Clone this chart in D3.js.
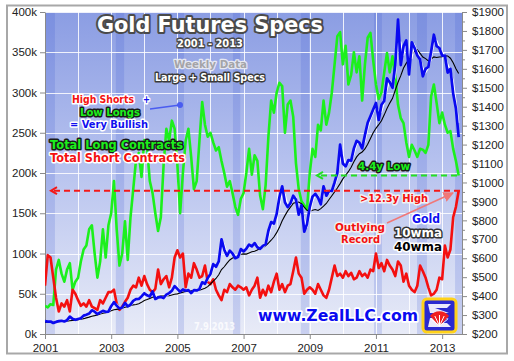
<!DOCTYPE html>
<html><head><meta charset="utf-8">
<script src="https://cdn.jsdelivr.net/npm/d3@7"></script>
<style>html,body{margin:0;padding:0;background:#fff;} svg{display:block;}</style>
</head><body><svg id="c" width="514" height="361"></svg>
<script>
// ---------- DATA (monthly samples, Jan 2001 .. Jul 2013) ----------
const startYear = 2001;
const longs = [
 35,33,37,36,80,92,75,65,80,88,55,65,
 70,90,105,110,130,135,100,70,90,130,95,135,
 150,190,130,85,100,140,92,145,180,216,225,195,
 241,233,190,175,150,128,145,210,255,240,265,255,
 210,150,200,240,255,220,180,190,240,288,260,245,
 250,238,228,232,215,200,183,190,175,158,148,168,
 175,200,230,198,222,215,172,155,185,245,290,275,
 300,312,308,250,285,290,270,212,180,165,160,155,
 200,230,220,260,253,290,260,275,300,335,370,375,
 335,358,310,322,350,325,345,290,335,368,374,340,
 310,292,300,325,349,325,345,320,285,268,262,238,
 220,235,228,220,230,229,225,235,295,310,287,262,
 275,260,250,252,230,215,197];
const shorts = [
 60,98,95,70,45,28,38,34,42,28,55,50,
 42,35,38,34,42,34,32,30,42,38,45,52,
 52,55,38,30,34,40,45,55,60,58,70,60,
 72,62,55,52,56,80,62,68,72,58,70,95,
 104,95,100,58,75,70,88,80,70,72,85,65,
 62,68,55,48,42,55,52,62,58,55,60,58,
 55,58,48,55,60,70,45,55,48,60,52,65,
 75,55,62,52,60,62,78,95,75,70,50,55,
 58,55,50,62,55,48,45,55,70,85,72,75,
 70,78,72,76,68,70,78,72,75,70,80,78,
 100,82,88,78,92,85,80,72,90,85,65,75,
 60,55,52,60,85,78,70,58,48,50,55,70,
 68,110,95,105,145,158,178];
const gold = [
 268,265,266,258,264,268,270,266,273,292,280,275,
 279,283,297,302,308,325,318,305,314,322,317,318,
 347,368,350,335,340,364,346,355,375,384,385,398,
 415,404,398,425,385,393,395,390,408,416,428,453,
 438,423,435,428,432,416,432,430,437,473,465,495,
 517,569,555,583,700,645,613,640,625,600,606,648,
 636,650,672,663,680,658,650,665,673,745,791,783,
 834,922,980,895,870,890,930,910,830,880,740,780,
 870,925,940,920,885,980,930,955,955,1000,1050,1200,
 1100,1085,1118,1115,1180,1220,1210,1180,1250,1315,1350,1385,
 1420,1330,1410,1430,1550,1530,1500,1620,1860,1620,1720,1750,
 1570,1740,1710,1670,1650,1560,1600,1610,1690,1780,1720,1710,
 1670,1670,1580,1600,1470,1390,1240];
const wma10 = [
 270,267,266,262,261,266,269,268,270,283,286,278,
 277,281,290,300,305,317,322,312,310,318,320,318,
 333,358,359,343,338,352,355,351,365,380,385,392,
 407,410,401,412,405,389,394,393,399,412,422,441,
 446,431,429,432,430,424,424,431,434,455,469,480,
 506,543,562,569,642,673,629,627,633,613,603,627,
 642,643,661,668,672,669,654,658,669,709,768,787,
 809,878,951,938,883,880,910,920,870,855,810,760,
 825,898,933,930,903,933,955,943,955,978,1025,1125,
 1150,1093,1102,1117,1148,1200,1215,1195,1215,1283,1333,1368,
 1403,1375,1370,1420,1490,1540,1515,1560,1740,1740,1670,1735,
 1660,1655,1725,1690,1660,1605,1580,1605,1650,1735,1750,1715,
 1690,1670,1625,1590,1535,1430,1315];
const wma40 = [
 262,262,263,263,264,265,266,266,268,270,272,273,
 276,278,281,285,289,294,297,301,306,310,312,317,
 323,328,330,332,337,341,344,349,354,356,360,367,
 377,382,388,394,396,398,400,401,401,402,406,410,
 412,416,421,424,426,429,430,429,431,436,442,450,
 464,479,493,513,540,555,574,591,601,605,613,621,
 623,622,628,634,637,644,653,657,666,680,695,712,
 735,763,798,825,850,870,890,894,897,888,870,853,
 847,853,857,852,862,875,889,910,930,950,971,994,
 1019,1038,1057,1080,1109,1135,1152,1161,1177,1202,1232,1263,
 1286,1305,1326,1357,1390,1419,1444,1487,1529,1564,1604,1630,
 1650,1676,1692,1701,1682,1662,1654,1642,1652,1663,1660,1662,
 1664,1669,1668,1656,1632,1600,1575];
const leftTicks = [0,50,100,150,200,250,300,350,400];
const rightTicks = [200,300,400,500,600,700,800,900,1000,1100,1200,1300,1400,1500,1600,1700,1800,1900];
const yearLabels = [2001,2003,2005,2007,2009,2011,2013];
const gridYears = [2002,2003,2004,2005,2006,2007,2008,2009,2010,2011,2012,2013];
const bands = [[2001.0,2001.3],[2003.14,2003.39],[2004.99,2005.2],[2006.68,2006.9],[2008.73,2008.98],[2010.94,2011.18],[2012.24,2012.54],[2013.39,2013.6]];

// ---------- LAYOUT ----------
const svg = d3.select("#c");
const L = 45, R = 462, T = 12, B = 334;
const x = d3.scaleLinear().domain([2001, 2013.6]).range([L, R]);
const yL = d3.scaleLinear().domain([0, 400]).range([B, T]);
const yR = d3.scaleLinear().domain([200, 1900]).range([B, T]);
const tOf = i => startYear + i / 12;

svg.append("rect").attr("x",7).attr("y",5.5).attr("width",500).attr("height",348)
  .attr("fill","#fff").attr("stroke","#a8a8a8").attr("stroke-width",2);

const defs = svg.append("defs");
const grad = defs.append("linearGradient").attr("id","bg").attr("x1",0).attr("y1",0).attr("x2",0).attr("y2",1);
grad.append("stop").attr("offset","0%").attr("stop-color","#8b9de3");
grad.append("stop").attr("offset","45%").attr("stop-color","#b4c0ee");
grad.append("stop").attr("offset","100%").attr("stop-color","#e8ebf7");
defs.append("clipPath").attr("id","clip").append("rect").attr("x",L).attr("y",T).attr("width",R-L).attr("height",B-T);
const mk = defs.append("marker").attr("id","ah").attr("viewBox","0 0 10 10").attr("refX",9).attr("refY",5)
  .attr("markerWidth",7).attr("markerHeight",7).attr("orient","auto");
mk.append("path").attr("d","M0,0 L10,5 L0,10 z").attr("fill","#f07878");

svg.append("rect").attr("x",L).attr("y",T).attr("width",R-L).attr("height",B-T).attr("fill","url(#bg)");
svg.append("g").selectAll("rect").data(bands).join("rect")
  .attr("x",d=>x(d[0])).attr("y",T).attr("width",d=>x(d[1])-x(d[0])).attr("height",B-T)
  .attr("fill","#2f4fd0").attr("opacity",0.17);

const grid = svg.append("g").attr("stroke","#fff").attr("stroke-opacity",0.85).attr("stroke-width",1);
grid.selectAll(".gy").data(leftTicks.slice(1)).join("line")
  .attr("x1",L).attr("x2",R).attr("y1",d=>Math.round(yL(d))+0.5).attr("y2",d=>Math.round(yL(d))+0.5);
grid.selectAll(".gx").data(gridYears).join("line")
  .attr("y1",T).attr("y2",B).attr("x1",d=>Math.round(x(d))+0.5).attr("x2",d=>Math.round(x(d))+0.5);

const axFont = "'Liberation Sans', Arial, sans-serif";
function styleAxis(g){
  g.select(".domain").attr("stroke","#8a8a8a");
  g.selectAll(".tick line").attr("stroke","#8a8a8a");
  g.selectAll("text").attr("font-family",axFont).attr("font-size","11.5px").attr("fill","#222");
}
svg.append("g").attr("transform",`translate(${L},0)`)
  .call(d3.axisLeft(yL).tickValues(leftTicks).tickFormat(d=>d+"k").tickSize(5).tickPadding(3).tickSizeOuter(0))
  .call(styleAxis);
svg.append("g").attr("transform",`translate(${R},0)`)
  .call(d3.axisRight(yR).tickValues(rightTicks).tickFormat(d=>"$"+d).tickSize(5).tickPadding(5).tickSizeOuter(0))
  .call(styleAxis);
svg.append("g").attr("transform",`translate(${R},0)`)
  .call(d3.axisRight(yR).tickValues(rightTicks.slice(0,-1).map(d=>d+50)).tickFormat("").tickSize(3).tickSizeOuter(0))
  .call(g=>{g.select(".domain").remove(); g.selectAll("line").attr("stroke","#8a8a8a");});
svg.append("g").attr("transform",`translate(0,${B})`)
  .call(d3.axisBottom(x).tickValues(yearLabels).tickFormat(d3.format("d")).tickSize(5).tickPadding(5).tickSizeOuter(0))
  .call(styleAxis);

const plot = svg.append("g").attr("clip-path","url(#clip)");
const lineL = d3.line().x((d,i)=>x(tOf(i))).y(d=>yL(d));
const lineR = d3.line().x((d,i)=>x(tOf(i))).y(d=>yR(d));
plot.append("path").attr("d",lineL(longs)).attr("fill","none").attr("stroke","#1cf01c").attr("stroke-width",2.6).attr("stroke-linejoin","round");
plot.append("path").attr("d",lineL(shorts)).attr("fill","none").attr("stroke","#f41010").attr("stroke-width",2.6).attr("stroke-linejoin","round");
plot.append("path").attr("d",lineR(wma40)).attr("fill","none").attr("stroke","#000").attr("stroke-width",1.1);
plot.append("path").attr("d",lineR(wma10)).attr("fill","none").attr("stroke","#fff").attr("stroke-width",1.4);
plot.append("path").attr("d",lineR(gold)).attr("fill","none").attr("stroke","#0a0af0").attr("stroke-width",2.7).attr("stroke-linejoin","round");

const lastShort = shorts[shorts.length-1], lastLong = longs[longs.length-1];
const ySh = yL(lastShort), yLo = yL(lastLong);
svg.append("line").attr("x1",54).attr("x2",R-1).attr("y1",ySh).attr("y2",ySh)
  .attr("stroke","#f41818").attr("stroke-width",2).attr("stroke-dasharray","6,4");
svg.append("path").attr("d",`M57,${ySh-3.5} L51,${ySh} L57,${ySh+3.5}`).attr("fill","none").attr("stroke","#f41818").attr("stroke-width",2);
svg.append("line").attr("x1",321).attr("x2",R-1).attr("y1",yLo).attr("y2",yLo)
  .attr("stroke","#22e022").attr("stroke-width",2).attr("stroke-dasharray","6,4");
svg.append("path").attr("d",`M323,${yLo-3.5} L317,${yLo} L323,${yLo+3.5}`).attr("fill","none").attr("stroke","#22e022").attr("stroke-width",2);

svg.append("line").attr("x1",150).attr("y1",109).attr("x2",180).attr("y2",105).attr("stroke","#4a5cf0").attr("stroke-width",1.5);
svg.append("circle").attr("cx",180).attr("cy",105).attr("r",3).attr("fill","#4a5cf0");
svg.append("line").attr("x1",387).attr("y1",223).attr("x2",453).attr("y2",193).attr("stroke","#f07878").attr("stroke-width",1.5).attr("marker-end","url(#ah)");

const tf = "'DejaVu Sans', Verdana, sans-serif";
function label(xp, yp, txt, fill, stroke, size, tl, sw){
  const t = svg.append("text").attr("x",xp).attr("y",yp).attr("font-family",tf).attr("font-weight","bold")
    .attr("font-size",size+"px").attr("fill",fill).attr("textLength",tl).attr("lengthAdjust","spacingAndGlyphs");
  if (stroke) t.attr("stroke",stroke).attr("stroke-width",sw||2.5).attr("stroke-linejoin","round").attr("paint-order","stroke");
  t.text(txt);
  return t;
}
label(97,32,"Gold Futures Specs","#fff","#4a4a4a",21,226,4);
label(177,47,"2001 - 2013","#fff","#4a4a4a",11,66,3);
label(174,68,"Weekly Data","#a4a4a8","#e6e8f2",11,73,2.5);
label(155,81,"Large + Small Specs","#fff","#3a3a3a",11,110,3);
label(72,103,"High Shorts","#f41010","#fff",10.5,62,3);
label(143,103,"+","#1010f0","#fff",10.5,7,3);
label(80,116,"Low Longs","#1cf01c","#1a1a1a",10.5,60,3);
label(70,128,"= Very Bullish","#1010f0","#fff",10.5,78,3);
label(50,149,"Total Long Contracts","#1cf01c","#1a1a1a",11.5,133,3);
label(50,162,"Total Short Contracts","#f41010","#fff",11.5,135,3);
label(358,170,"4.4y Low","#1cf01c","#1a1a1a",11,52,3);
label(360,202,">12.3y High","#f41010","#f2f2f2",11,68,3);
label(335,231,"Outlying","#f41010","#f2f2f2",11,50,3);
label(341,243,"Record","#f41010","#f2f2f2",11,39,3);
label(412,223,"Gold","#1010f0","#fff",12,28,3);
label(394,237,"10wma","#fff","#333",12,48,3);
label(394,251,"40wma","#000","#fff",12,48,3);
label(258,321,"www.ZealLLC.com","#0a0af0","#fff",16,160,3.5);
label(194,330,"7.9.2013","rgba(255,255,255,0.8)",null,11,41);

const lg = svg.append("g").attr("transform","translate(423,299)");
lg.append("rect").attr("width",33).attr("height",33).attr("rx",4).attr("fill","#2a2ad0").attr("stroke","#ffd21a").attr("stroke-width",3);
lg.append("path").attr("d","M5,5 L28,5 L24,9 L12,9 L26,14 L7,14 Z").attr("fill","#fff").attr("opacity",0.9);
lg.append("path").attr("d","M5,28 L28,28 L24,24 L12,24 L26,19 L7,19 Z").attr("fill","#fff").attr("opacity",0.9);
lg.append("path").attr("d","M16.5,27 L7,17 A12,12 0 0 1 26,17 Z").attr("fill","#f02020");
[-50,-25,0,25,50].forEach(a=>{
  const r=a*Math.PI/180;
  lg.append("line").attr("x1",16.5).attr("y1",27).attr("x2",16.5+11*Math.sin(r)).attr("y2",27-11*Math.cos(r)).attr("stroke","#fff").attr("stroke-width",1);
});
</script></body></html>
